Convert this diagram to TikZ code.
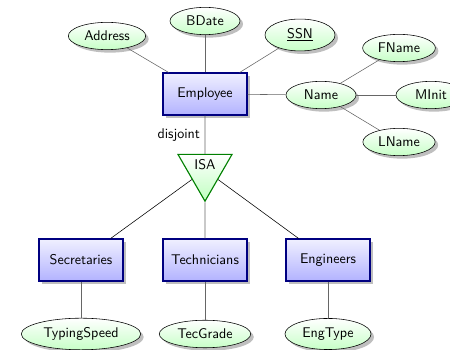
\documentclass[tikz,border=0pt]{standalone}
\usepackage{tikz}
\usetikzlibrary{shapes.geometric}
\usetikzlibrary{shadows}
\tikzstyle{entity}=[draw=blue!50!black,thick,top color=blue!6,bottom color=blue!30,minimum width=2.1cm,minimum height=1.05cm,drop shadow,font=\sffamily]
\tikzstyle{attribute}=[draw=black,ellipse,top color=white,bottom color=green!22,minimum width=1.75cm,minimum height=0.65cm,drop shadow,font=\sffamily]
\tikzstyle{isa}=[draw=green!50!black,thick,regular polygon,regular polygon sides=3,shape border rotate=180,minimum size=1.55cm,inner sep=0pt,top color=white,bottom color=green!25,text depth=0.3cm,font=\sffamily]
\tikzstyle{link}=[draw=black!60]

\begin{document}
\begin{tikzpicture}
      \useasboundingbox (0,0) rectangle (11.25,8.75);
      % entities
      \node[entity] (emp) at (5.125,6.4) {Employee};
      \node[entity] (sec) at (2.025,2.25) {Secretaries};
      \node[entity] (tech) at (5.125,2.25) {Technicians};
      \node[entity] (eng) at (8.2,2.25) {Engineers};
      \node[isa] (isa) at (5.125,4.5) {ISA};
      
      % attributes
      \node[attribute] (addr) at (2.675,7.85) {Address};
      \node[attribute] (bdate) at (5.125,8.225) {BDate};
      \node[attribute] (ssn) at (7.5,7.875) {\underline{SSN}};
      \node[attribute] (name) at (8.025,6.375) {Name};
      \node[attribute] (fname) at (9.975,7.55) {FName};
      \node[attribute] (minit) at (10.775,6.375) {MInit};
      \node[attribute] (lname) at (9.975,5.2) {LName};
      \node[attribute] (speed) at (2.025,0.4) {TypingSpeed};
      \node[attribute] (grade) at (5.125,0.4) {TecGrade};
      \node[attribute] (type) at (8.2,0.4) {EngType};
      
      \foreach \a in {addr,bdate,ssn,name}{
        \draw[link] (emp) -- (\a);
      }
      \foreach \a in {fname,minit,lname}{
        \draw[link] (name) -- (\a);
      }
      \draw[link] (sec) -- (speed);
      \draw[link] (tech) -- (grade);
      \draw[link] (eng) -- (type);
      
      \draw[link] (emp) -- node[left,font=\sffamily] {disjoint} (isa);
      \draw (isa) -- (sec);
      \draw[link] (isa) -- (tech);
      \draw (isa) -- (eng);
    \end{tikzpicture}
\end{document}
